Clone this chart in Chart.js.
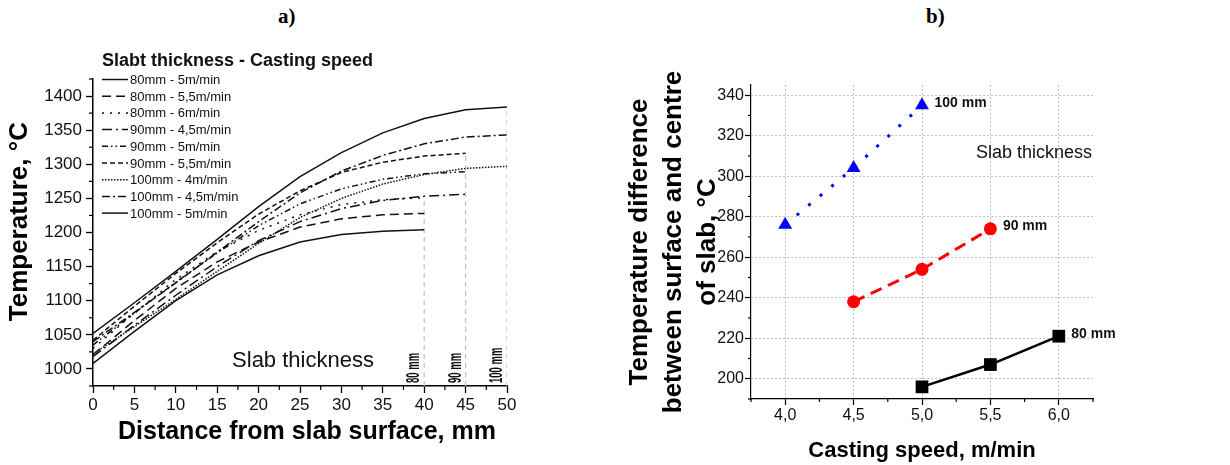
<!DOCTYPE html>
<html>
<head>
<meta charset="utf-8">
<script src="https://cdn.jsdelivr.net/npm/chart.js@4/dist/chart.umd.min.js"></script>
<style>
  html, body { margin: 0; padding: 0; background: #fff; }
  body { width: 1230px; height: 465px; position: relative; overflow: hidden; }
  canvas { position: absolute; top: 0; }
  #tempProfile { left: 0; }
  #tempDiff { left: 580px; }
  .panel { position: absolute; top: 4px; font: bold 21px "Liberation Serif", "Times New Roman", serif; color: #000; }
</style>
</head>
<body>
<div class="panel" style="left:278px">a)</div>
<div class="panel" style="left:926px">b)</div>
<canvas id="tempProfile" width="560" height="465"></canvas>
<canvas id="tempDiff" width="650" height="465"></canvas>
<script>
// distance from the slab surface, mm
const distance = [0, 5, 10, 15, 20, 25, 30, 35, 40, 45, 50];

// temperature profiles, °C (one value per distance step, up to the slab centre)
const temp80mm5 = [1008, 1055, 1100, 1138, 1166, 1186, 1197, 1202, 1204];
const temp80mm55 = [1021, 1071, 1118, 1157, 1186, 1208, 1220, 1226, 1228];
const temp80mm6 = [1030, 1082, 1131, 1172, 1203, 1226, 1241, 1248, 1251];
const temp90mm45 = [1018, 1064, 1108, 1150, 1188, 1216, 1235, 1247, 1253, 1256];
const temp90mm5 = [1035, 1082, 1127, 1170, 1210, 1242, 1264, 1278, 1286, 1289];
const temp90mm55 = [1042, 1092, 1140, 1185, 1227, 1261, 1288, 1303, 1312, 1316];
const temp100mm4 = [1022, 1062, 1102, 1143, 1184, 1222, 1250, 1271, 1285, 1294, 1297];
const temp100mm45 = [1040, 1083, 1126, 1171, 1216, 1258, 1290, 1313, 1330, 1340, 1343];
const temp100mm5 = [1052, 1097, 1143, 1190, 1238, 1282, 1317, 1346, 1367, 1380, 1384];

const profileLabels = [
  '80mm - 5m/min', '80mm - 5,5m/min', '80mm - 6m/min',
  '90mm - 4,5m/min', '90mm - 5m/min', '90mm - 5,5m/min',
  '100mm - 4m/min', '100mm - 4,5m/min', '100mm - 5m/min'
];

// half thickness of each slab (centre position), mm
const thicknessMm = [40, 45, 50];
const thicknessLabels = ['80 mm', '90 mm', '100 mm'];

// centre-to-surface temperature difference vs casting speed
const speed80 = [5.0, 5.5, 6.0];
const diff80 = [196, 207, 221];
const speed90 = [4.5, 5.0, 5.5];
const diff90 = [238, 254, 274];
const speed100 = [4.0, 4.5, 5.0];
const diff100 = [276, 304, 335];

const FONT = '"Liberation Sans", Arial, Helvetica, sans-serif';
Chart.defaults.font.family = FONT;
Chart.defaults.color = '#111';

const profileSeries = [temp80mm5, temp80mm55, temp80mm6, temp90mm45, temp90mm5,
  temp90mm55, temp100mm4, temp100mm45, temp100mm5];
const profileDash = [[], [9, 5], [2, 6], [10, 4, 2, 4], [6, 3, 1.5, 3, 1.5, 3],
  [5, 3], [1.5, 1.5], [8, 3, 2, 3], []];

// short unlabelled ticks between the major ones
function minorTicks(len, isMajorX, isMajorY) {
  return {
    id: 'minorTicks',
    afterDraw(chart) {
      const ctx = chart.ctx;
      ctx.save();
      ctx.strokeStyle = '#000';
      ctx.lineWidth = 1.2;
      const sx = chart.scales.x, sy = chart.scales.y;
      sx.ticks.forEach(t => {
        if (isMajorX(t.value)) return;
        const p = sx.getPixelForValue(t.value);
        ctx.beginPath(); ctx.moveTo(p, sx.top); ctx.lineTo(p, sx.top + len); ctx.stroke();
      });
      sy.ticks.forEach(t => {
        if (isMajorY(t.value)) return;
        const p = sy.getPixelForValue(t.value);
        ctx.beginPath(); ctx.moveTo(sy.right, p); ctx.lineTo(sy.right - len, p); ctx.stroke();
      });
      ctx.restore();
    }
  };
}

const isMult = (v, step) => Math.abs(v / step - Math.round(v / step)) < 1e-6;

// ---------- a) temperature profiles ----------
const profileSets = profileSeries.map((vals, i) => ({
  label: profileLabels[i],
  data: vals.map((t, k) => ({ x: distance[k], y: t })),
  borderColor: '#111',
  borderWidth: 1.5,
  borderDash: profileDash[i],
  pointRadius: 0,
  tension: 0,
  fill: false
}));

const guideSets = thicknessMm.map(mm => {
  const ends = profileSeries.filter(v => distance[v.length - 1] === mm).map(v => v[v.length - 1]);
  return {
    label: '',
    data: [{ x: mm, y: 975 }, { x: mm, y: Math.max(...ends) }],
    borderColor: '#c4c4c4',
    borderWidth: 1.3,
    borderDash: [5, 4],
    pointRadius: 0
  };
});

const profileKey = {
  id: 'profileKey',
  afterDraw(chart) {
    const ctx = chart.ctx;
    const area = chart.chartArea;
    ctx.save();
    ctx.fillStyle = '#111';
    ctx.textBaseline = 'middle';
    ctx.font = 'bold 18px ' + FONT;
    ctx.fillText('Slabt thickness - Casting speed', 102, 61);
    ctx.font = '13px ' + FONT;
    profileSeries.forEach((vals, i) => {
      const ds = chart.data.datasets[i];
      const y = 79.5 + i * 16.7;
      ctx.strokeStyle = ds.borderColor;
      ctx.lineWidth = ds.borderWidth;
      ctx.setLineDash(ds.borderDash);
      ctx.beginPath(); ctx.moveTo(102, y); ctx.lineTo(128, y); ctx.stroke();
      ctx.setLineDash([]);
      ctx.fillText(ds.label, 130, y + 1);
    });

    ctx.textBaseline = 'alphabetic';
    ctx.textAlign = 'center';
    ctx.font = '22px ' + FONT;
    ctx.fillText('Slab thickness', area.left + 210, area.bottom - 19.5);

    // slab thickness labels beside the centre lines
    ctx.font = 'bold 19px ' + FONT;
    ctx.textAlign = 'left';
    const sx = chart.scales.x;
    thicknessMm.forEach((mm, i) => {
      ctx.save();
      ctx.translate(sx.getPixelForValue(mm) - 5, area.bottom - 3);
      ctx.rotate(-Math.PI / 2);
      ctx.scale(0.5, 1);
      ctx.fillText(thicknessLabels[i], 0, 0);
      ctx.restore();
    });
    ctx.restore();
  }
};

new Chart(document.getElementById('tempProfile'), {
  type: 'line',
  data: { datasets: [...profileSets, ...guideSets] },
  options: {
    responsive: false,
    animation: false,
    events: [],
    layout: { padding: { left: 0, top: 79, right: 53, bottom: 0 } },
    plugins: { legend: { display: false }, tooltip: { enabled: false } },
    scales: {
      x: {
        type: 'linear',
        min: 0,
        max: 50,
        afterFit: s => { s.height = 79; },
        border: { display: true, color: '#000', width: 1.5 },
        grid: {
          drawOnChartArea: false,
          tickLength: 7,
          tickWidth: 1.3,
          tickColor: c => (c.tick && isMult(c.tick.value, 5)) ? '#000' : 'rgba(0,0,0,0)'
        },
        ticks: {
          stepSize: 2.5,
          autoSkip: false,
          maxRotation: 0,
          minRotation: 0,
          padding: 2,
          font: { size: 17 },
          callback: v => isMult(v, 5) ? String(v) : ''
        },
        title: {
          display: true,
          text: '  Distance from slab surface, mm',
          color: '#000',
          font: { size: 25, weight: 'bold' },
          padding: { top: 0, bottom: 18 }
        }
      },
      y: {
        min: 975,
        max: 1425,
        afterFit: s => { s.width = 93; },
        border: { display: true, color: '#000', width: 1.5 },
        grid: {
          drawOnChartArea: false,
          tickLength: 7,
          tickWidth: 1.3,
          tickColor: c => (c.tick && isMult(c.tick.value, 50)) ? '#000' : 'rgba(0,0,0,0)'
        },
        ticks: {
          stepSize: 25,
          autoSkip: false,
          padding: 4,
          font: { size: 17 },
          callback: v => isMult(v, 50) ? String(v) : ''
        },
        title: {
          display: true,
          text: '   Temperature, °C',
          color: '#000',
          font: { size: 26, weight: 'bold' },
          padding: { top: 4, bottom: 0 }
        }
      }
    }
  },
  plugins: [minorTicks(4, v => isMult(v, 5), v => isMult(v, 50)), profileKey]
});

// ---------- b) temperature difference ----------
const pts = (xs, ys) => xs.map((x, i) => ({ x, y: ys[i] }));

const diffKey = {
  id: 'diffKey',
  afterDatasetsDraw(chart) {
    const ctx = chart.ctx;
    const area = chart.chartArea;
    ctx.save();
    ctx.fillStyle = '#111';
    ctx.textBaseline = 'alphabetic';
    ctx.font = 'bold 14px ' + FONT;
    chart.data.datasets.forEach((ds, i) => {
      const pts = chart.getDatasetMeta(i).data;
      const last = pts[pts.length - 1];
      ctx.fillText(ds.label, last.x + 12.5, last.y + 1.5);
    });
    ctx.font = '18px ' + FONT;
    ctx.textAlign = 'right';
    ctx.fillText('Slab thickness', area.right - 1, area.top + 73);
    ctx.restore();
  }
};

const gridColor = '#bdbdbd';

new Chart(document.getElementById('tempDiff'), {
  type: 'line',
  data: {
    datasets: [
      {
        label: '80 mm',
        data: pts(speed80, diff80),
        borderColor: '#000',
        backgroundColor: '#000',
        borderWidth: 2.5,
        pointStyle: 'rect',
        pointRadius: 9,
        pointBorderWidth: 0,
        tension: 0
      },
      {
        label: '90 mm',
        data: pts(speed90, diff90),
        borderColor: '#ff0000',
        backgroundColor: '#ff0000',
        borderWidth: 3,
        borderDash: [12, 7],
        pointStyle: 'circle',
        pointRadius: 6.5,
        pointBorderWidth: 0,
        tension: 0
      },
      {
        label: '100 mm',
        data: pts(speed100, diff100),
        borderColor: '#0000ff',
        backgroundColor: '#0000ff',
        borderWidth: 3,
        borderDash: [3, 12],
        pointStyle: 'triangle',
        pointRadius: 8,
        pointBorderWidth: 0,
        tension: 0
      }
    ]
  },
  options: {
    responsive: false,
    animation: false,
    events: [],
    layout: { padding: { left: 0, top: 85, right: 137, bottom: 0 } },
    plugins: { legend: { display: false }, tooltip: { enabled: false } },
    scales: {
      x: {
        type: 'linear',
        min: 3.75,
        max: 6.25,
        afterFit: s => { s.height = 66; },
        border: { display: true, color: '#000', width: 1.2, dash: [2, 2] },
        grid: {
          drawOnChartArea: true,
          color: c => (c.tick && isMult(c.tick.value, 0.5)) ? gridColor : 'rgba(0,0,0,0)',
          lineWidth: 1,
          tickLength: 6,
          tickWidth: 1.2,
          tickColor: c => (c.tick && isMult(c.tick.value, 0.5)) ? '#000' : 'rgba(0,0,0,0)'
        },
        ticks: {
          stepSize: 0.25,
          autoSkip: false,
          maxRotation: 0,
          minRotation: 0,
          padding: 1,
          font: { size: 16 },
          callback: v => isMult(v, 0.5) ? v.toFixed(1).replace('.', ',') : ''
        },
        title: {
          display: true,
          text: 'Casting speed, m/min',
          color: '#000',
          font: { size: 22, weight: 'bold' },
          padding: { top: 0, bottom: 1 }
        }
      },
      y: {
        min: 190,
        max: 345,
        afterFit: s => { s.width = 171; },
        border: { display: true, color: '#000', width: 1.2, dash: [2, 2] },
        grid: {
          drawOnChartArea: true,
          color: c => (c.tick && isMult(c.tick.value, 20)) ? gridColor : 'rgba(0,0,0,0)',
          lineWidth: 1,
          tickLength: 6,
          tickWidth: 1.2,
          tickColor: c => (c.tick && isMult(c.tick.value, 20)) ? '#000' : 'rgba(0,0,0,0)'
        },
        ticks: {
          stepSize: 10,
          includeBounds: false,
          autoSkip: false,
          padding: 1,
          font: { size: 16 },
          callback: v => isMult(v, 20) ? String(v) : ''
        },
        title: {
          display: true,
          text: ['Temperature difference', 'between surface and centre', 'of slab, °C'],
          color: '#000',
          font: { size: 26, weight: 'bold', lineHeight: 1.31 },
          padding: { top: 43, bottom: 0 }
        }
      }
    }
  },
  plugins: [minorTicks(3, v => isMult(v, 0.5), v => isMult(v, 20)), diffKey]
});
</script>
</body>
</html>
